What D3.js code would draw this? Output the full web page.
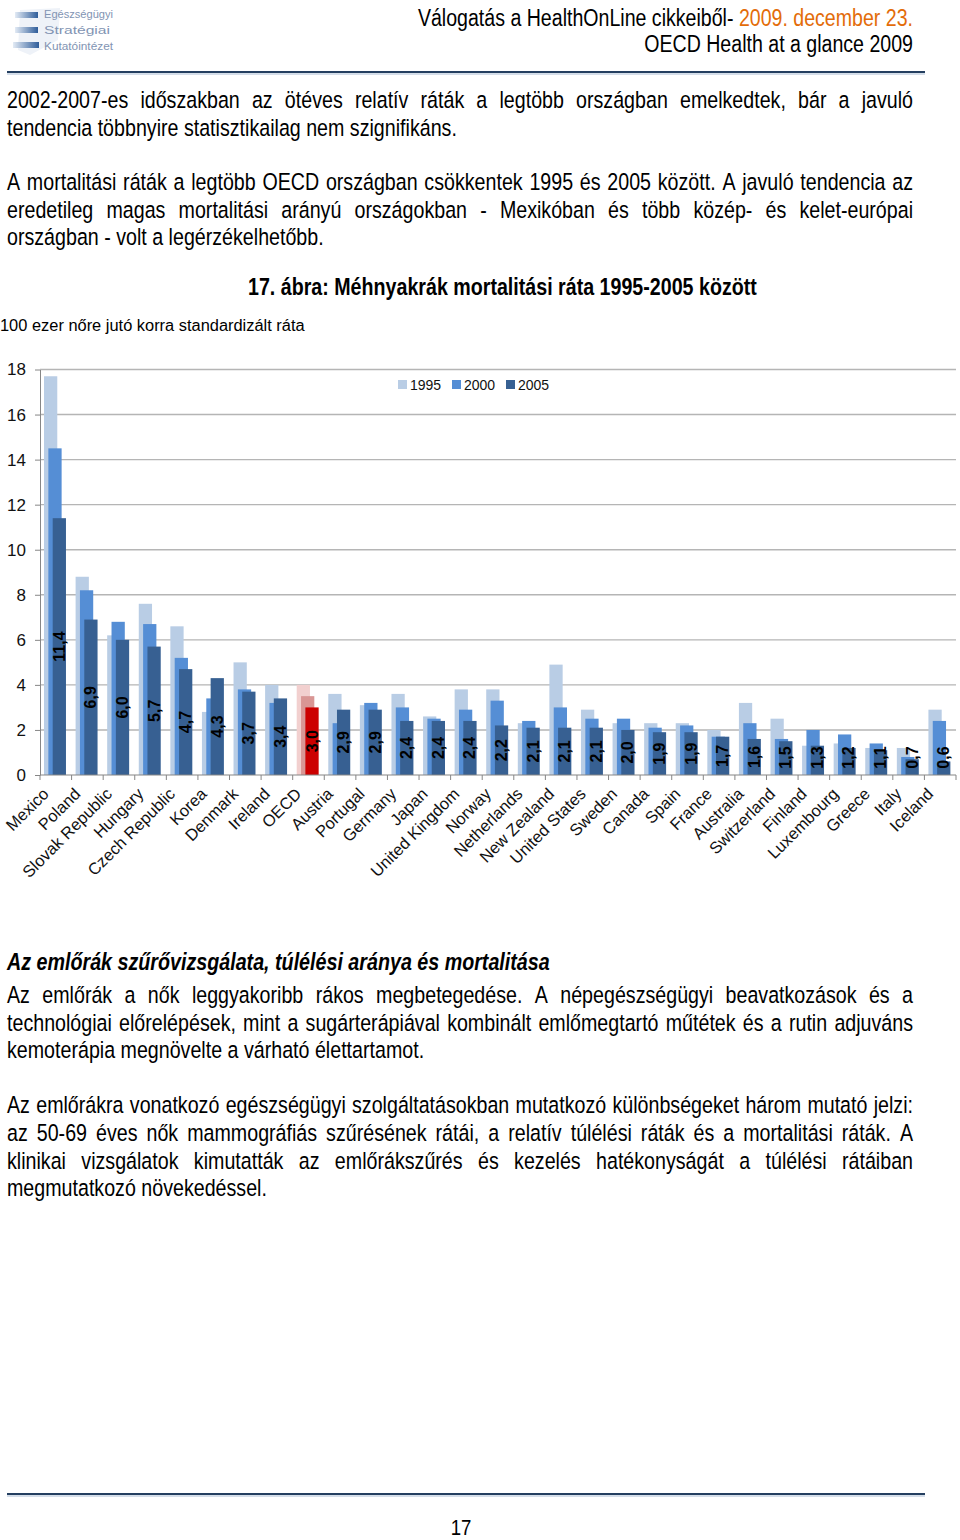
<!DOCTYPE html>
<html><head><meta charset="utf-8">
<script src="https://cdn.jsdelivr.net/npm/d3@7/dist/d3.min.js"></script>
<style>html,body{margin:0;padding:0;background:#fff}svg{display:block}</style>
</head><body>
<svg id="page" width="960" height="1540"></svg>
<script>
// ---------------- DATA ----------------
const countries = ["Mexico","Poland","Slovak Republic","Hungary","Czech Republic","Korea","Denmark","Ireland","OECD","Austria","Portugal","Germany","Japan","United Kingdom","Norway","Netherlands","New Zealand","United States","Sweden","Canada","Spain","France","Australia","Switzerland","Finland","Luxembourg","Greece","Italy","Iceland"];
const years = ["1995","2000","2005"];
const v1995 = [17.7,8.8,6.2,7.6,6.6,2.8,5.0,4.0,4.0,3.6,3.1,3.6,2.6,3.8,3.8,2.3,4.9,2.9,2.3,2.3,2.3,2.0,3.2,2.5,1.3,1.4,1.2,1.2,2.9];
const v2000 = [14.5,8.2,6.8,6.7,5.2,3.4,3.8,3.2,3.5,2.3,3.2,3.0,2.5,2.9,3.3,2.4,3.0,2.5,2.5,2.1,2.2,1.7,2.3,1.6,2.0,1.8,1.4,0.8,2.4];
const v2005 = [11.4,6.9,6.0,5.7,4.7,4.3,3.7,3.4,3.0,2.9,2.9,2.4,2.4,2.4,2.2,2.1,2.1,2.1,2.0,1.9,1.9,1.7,1.6,1.5,1.3,1.2,1.1,0.7,0.6];
const yTicks = [0,2,4,6,8,10,12,14,16,18];
const highlighted = "OECD";
const chartTitle = "17. ábra: Méhnyakrák mortalitási ráta 1995-2005 között";
const yAxisTitle = "100 ezer nőre jutó korra standardizált ráta";

// --------------- STYLE ----------------
const colNormal = {"1995":"#b9cde5","2000":"#558ed5","2005":"#376092"};
const colHigh   = {"1995":"#f2d0cf","2000":"#d99694","2005":"#cc0000"};

const svg = d3.select("#page");
svg.append("rect").attr("width",960).attr("height",1540).attr("fill","#fff");

// font handling (narrow body font)
const cv = document.createElement("canvas").getContext("2d");
function mw(str, font){ cv.font = font; return cv.measureText(str).width; }
const probe = "Válogatás a HealthOnLine 2009";
const hasNarrow = Math.abs(mw(probe,"20px 'Liberation Sans Narrow', monospace") - mw(probe,"20px monospace")) > 0.5;
const NF = hasNarrow ? "'Liberation Sans Narrow','Arial Narrow',sans-serif" : "'Liberation Sans',Arial,sans-serif";
const SX = hasNarrow ? 1 : 0.82;
const AF = "'Liberation Sans',Arial,sans-serif";

function fstr(o){ return `${o.style||"normal"} ${o.weight||"normal"} ${o.size}px ${NF}`; }
function nwidth(str,o){ return mw(str,fstr(o))*SX; }
function fit(str,w,o){ const b=20; return b*w/nwidth(str,Object.assign({},o,{size:b})); }
function ntext(parent,x,y,str,o){
  const g = parent.append("g").attr("transform",`translate(${x},${y}) scale(${SX},1)`);
  const t = g.append("text").attr("font-family",NF).attr("font-size",o.size)
    .attr("font-weight",o.weight||"normal").attr("font-style",o.style||"normal")
    .attr("fill",o.fill||"#000").attr("text-anchor",o.anchor||"start");
  if (str!==null) t.text(str);
  return t;
}
function jline(parent,x0,x1,y,str,o){
  const words = str.split(" ");
  const ws = words.map(w=>nwidth(w,o));
  const gap = (x1-x0-d3.sum(ws))/(words.length-1);
  let cx = x0;
  words.forEach((w,i)=>{ ntext(parent,cx,y,w,o); cx += ws[i]+gap; });
}

// ---------------- HEADER ----------------
const hdr = svg.append("g");
// logo approximation
const lg = hdr.append("g");
const grad = svg.append("defs").append("linearGradient").attr("id","lgGrad");
grad.append("stop").attr("offset","0%").attr("stop-color","#e3ebf5");
grad.append("stop").attr("offset","100%").attr("stop-color","#2f5d9a");
lg.append("path").attr("d","M20,10 L60,8 L58,40 L30,55 L18,50 Z").attr("fill","#eef2f8");
[[15,12,23,6],[15,27,23,6],[13,42,26,6]].forEach(r=>{
  lg.append("rect").attr("x",r[0]).attr("y",r[1]).attr("width",r[2]).attr("height",r[3]).attr("fill","url(#lgGrad)");
});
["Egészségügyi","Stratégiai","Kutatóintézet"].forEach((t,i)=>{
  lg.append("text").attr("x",44).attr("y",18+i*16).attr("font-family",AF).attr("font-size",10)
    .attr("fill","#8294b3").attr("textLength",i==1?66:69).attr("lengthAdjust","spacingAndGlyphs").text(t);
});
const hSize = fit("OECD Health at a glance 2009",269,{});
const h1 = ntext(hdr,913,26,null,{size:hSize,anchor:"end"});
h1.append("tspan").text("Válogatás a HealthOnLine cikkeiből- ");
h1.append("tspan").attr("fill","#e36c09").text("2009. december 23.");
ntext(hdr,913,52,"OECD Health at a glance 2009",{size:hSize,anchor:"end"});
hdr.append("line").attr("x1",7).attr("x2",925).attr("y1",72).attr("y2",72).attr("stroke","#243f60").attr("stroke-width",2);
hdr.append("line").attr("x1",7).attr("x2",925).attr("y1",74).attr("y2",74).attr("stroke","#a9bcd3").attr("stroke-width",1);

// ---------------- BODY TEXT ----------------
const bodyO = {size: fit("tendencia többnyire statisztikailag nem szignifikáns.",450,{})};
const body = svg.append("g");
const topLines = [
 [108,"2002-2007-es időszakban az ötéves relatív ráták a legtöbb országban emelkedtek, bár a javuló",true],
 [136,"tendencia többnyire statisztikailag nem szignifikáns.",false],
 [190,"A mortalitási ráták a legtöbb OECD országban csökkentek 1995 és 2005 között. A javuló tendencia az",true],
 [218,"eredetileg magas mortalitási arányú országokban - Mexikóban és több közép- és kelet-európai",true],
 [245,"országban - volt a legérzékelhetőbb.",false]
];
const botLines = [
 [1003,"Az emlőrák a nők leggyakoribb rákos megbetegedése. A népegészségügyi beavatkozások és a",true],
 [1031,"technológiai előrelépések, mint a sugárterápiával kombinált emlőmegtartó műtétek és a rutin adjuváns",true],
 [1058,"kemoterápia megnövelte a várható élettartamot.",false],
 [1113,"Az emlőrákra vonatkozó egészségügyi szolgáltatásokban mutatkozó különbségeket három mutató jelzi:",true],
 [1141,"az 50-69 éves nők mammográfiás szűrésének rátái, a relatív túlélési ráták és a mortalitási ráták. A",true],
 [1169,"klinikai vizsgálatok kimutatták az emlőrákszűrés és kezelés hatékonyságát a túlélési rátáiban",true],
 [1196,"megmutatkozó növekedéssel.",false]
];
topLines.concat(botLines).forEach(l=>{
  if (l[2]) jline(body,7,913,l[0],l[1],bodyO); else ntext(body,7,l[0],l[1],bodyO);
});
const headStr = "Az emlőrák szűrővizsgálata, túlélési aránya és mortalitása";
const headO = {weight:"bold",style:"italic"}; headO.size = fit(headStr,543,headO);
ntext(body,7,970,headStr,headO);

// footer
svg.append("line").attr("x1",7).attr("x2",925).attr("y1",1494).attr("y2",1494).attr("stroke","#243f60").attr("stroke-width",2);
svg.append("line").attr("x1",7).attr("x2",925).attr("y1",1496).attr("y2",1496).attr("stroke","#a9bcd3").attr("stroke-width",1);
ntext(svg,461,1535,"17",{size:bodyO.size*0.95,anchor:"middle"});

// ---------------- CHART ----------------
const titleO = {weight:"bold"}; titleO.size = fit(chartTitle,509,titleO);
ntext(svg,248,295,chartTitle,titleO);

cv.font = `15px ${AF}`;
const yTitleSize = 15*305/cv.measureText(yAxisTitle).width;
svg.append("text").attr("x",0).attr("y",331).attr("font-family",AF).attr("font-size",yTitleSize)
  .attr("fill","#000").text(yAxisTitle);

const x = d3.scaleBand().domain(countries).range([40,956]);
const y = d3.scaleLinear().domain([0,18]).range([775,369.5]);
const bw = x.bandwidth();
const sub = d3.scalePoint().domain(years).range([bw*0.127, bw*0.402]);
const barW = bw*0.42;

const chart = svg.append("g");
// gridlines
chart.append("g").selectAll("line").data(yTicks.filter(t=>t>0)).join("line")
  .attr("x1",40).attr("x2",956).attr("y1",d=>y(d)).attr("y2",d=>y(d))
  .attr("stroke","#b5b5b5").attr("stroke-width",1.4);

// y axis
const yAxis = chart.append("g").attr("transform","translate(40,0)")
  .call(d3.axisLeft(y).tickValues(yTicks).tickSize(5).tickSizeOuter(0).tickPadding(9).tickFormat(d3.format("d")));
yAxis.select(".domain").attr("stroke","#868686");
yAxis.selectAll(".tick line").attr("stroke","#868686");
yAxis.selectAll("text").attr("font-family",AF).attr("font-size",17).attr("fill","#111");

// bars
const seriesVals = {"1995":v1995,"2000":v2000,"2005":v2005};
years.forEach(yr=>{
  chart.append("g").selectAll("rect").data(countries.map((c,i)=>({c,v:seriesVals[yr][i]}))).join("rect")
    .attr("x",d=>x(d.c)+sub(yr)).attr("width",barW)
    .attr("y",d=>y(d.v)).attr("height",d=>y(0)-y(d.v))
    .attr("fill",d=>d.c===highlighted?colHigh[yr]:colNormal[yr]);
});

// x axis
const xa = chart.append("g");
xa.append("line").attr("x1",40).attr("x2",956).attr("y1",y(0)).attr("y2",y(0)).attr("stroke","#868686").attr("stroke-width",1.2);
xa.selectAll("line.tk").data(countries.map(c=>x(c)).concat([x.range()[1]])).join("line").attr("class","tk")
  .attr("x1",d=>d).attr("x2",d=>d).attr("y1",y(0)).attr("y2",y(0)+5).attr("stroke","#868686");
xa.selectAll("text").data(countries).join("text")
  .attr("transform",c=>`translate(${x(c)+bw/2-6},${y(0)+20}) rotate(-45)`)
  .attr("text-anchor","end").attr("font-family",AF).attr("font-size",16.5).attr("fill","#111")
  .text(c=>c);

// data labels (2005)
chart.append("g").selectAll("text").data(countries.map((c,i)=>({c,v:v2005[i]}))).join("text")
  .attr("transform",d=>{
    const cx = x(d.c)+sub("2005")+barW/2;
    const cy = Math.min((y(d.v)+y(0))/2, y(0)-17.5);
    return `translate(${cx},${cy}) rotate(-90)`;
  })
  .attr("text-anchor","middle").attr("dominant-baseline","central")
  .attr("font-family",AF).attr("font-weight","bold").attr("font-size",16).attr("fill","#000")
  .text(d=>d3.format(".1f")(d.v).replace(".",","));

// legend
const leg = chart.append("g");
const legX = d3.scalePoint().domain(years).range([398,506]);
years.forEach(yr=>{
  leg.append("rect").attr("x",legX(yr)).attr("y",380).attr("width",9).attr("height",9).attr("fill",colNormal[yr]);
  leg.append("text").attr("x",legX(yr)+12).attr("y",389.5).attr("font-family",AF).attr("font-size",14)
    .attr("fill","#111").text(yr);
});
</script>
</body></html>
